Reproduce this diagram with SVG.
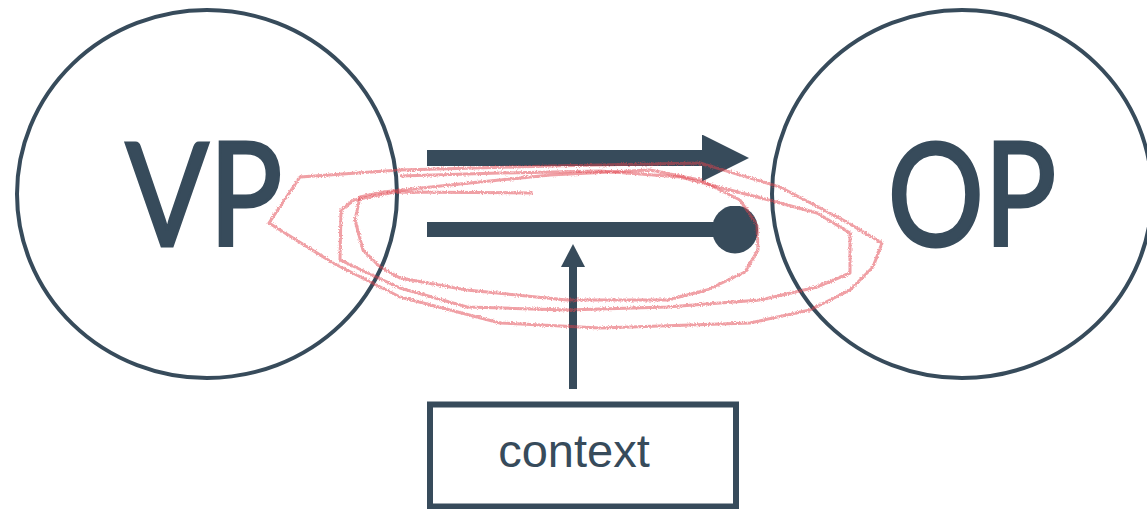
<svg xmlns="http://www.w3.org/2000/svg" width="1147" height="509" viewBox="0 0 1147 509">
  <style>
    .ring { fill: none; stroke: #374b5b; stroke-width: 4; }
    .big { font-family: Lato, "Open Sans", sans-serif; font-size: 144px; font-weight: 400; fill: #374b5b; stroke: #374b5b; stroke-width: 3; text-anchor: middle; }
    .box { fill: #ffffff; stroke: #374b5b; stroke-width: 6; }
    .label { font-family: "Liberation Sans", Arial, sans-serif; font-size: 47px; fill: #374b5b; text-anchor: middle; }
    .bar { fill: none; stroke: #374b5b; stroke-linecap: butt; }
    .scribble { fill: none; stroke: #e2404c; stroke-width: 3; stroke-opacity: 0.5; stroke-linejoin: round; filter: url(#rough); }
  </style>
  <defs>
    <marker id="head" markerUnits="userSpaceOnUse" viewBox="0 0 47 47" refX="2" refY="23.5" markerWidth="47" markerHeight="47" orient="auto">
      <path d="M0,0 L47,23.5 L0,47 Z" fill="#374b5b"/>
    </marker>
    <marker id="dot" markerUnits="userSpaceOnUse" viewBox="0 0 46 48" refX="23" refY="24" markerWidth="46" markerHeight="48" orient="auto">
      <ellipse cx="23" cy="24" rx="23" ry="24" fill="#374b5b"/>
    </marker>
    <marker id="head-small" markerUnits="userSpaceOnUse" viewBox="0 0 23 24" refX="1" refY="12" markerWidth="23" markerHeight="24" orient="auto">
      <path d="M0,0 L23,12 L0,24 Z" fill="#374b5b"/>
    </marker>
    <!-- pencil-like jitter for the hand-drawn loops -->
    <filter id="rough" x="-5%" y="-20%" width="110%" height="140%">
      <feTurbulence type="fractalNoise" baseFrequency="0.8" numOctaves="2" seed="3" result="noise"/>
      <feDisplacementMap in="SourceGraphic" in2="noise" scale="3.5" xChannelSelector="R" yChannelSelector="G"/>
    </filter>
  </defs>

  <rect width="1147" height="509" fill="#ffffff"/>

  <g id="node-vp">
    <ellipse class="ring" cx="207" cy="194" rx="190" ry="184"/>
    <text class="big" x="204" y="246" textLength="157" lengthAdjust="spacingAndGlyphs">VP</text>
  </g>

  <g id="node-op">
    <ellipse class="ring" cx="962" cy="194" rx="190" ry="184"/>
    <text class="big" x="972" y="246" textLength="169" lengthAdjust="spacingAndGlyphs">OP</text>
  </g>

  <g id="node-context">
    <rect class="box" x="430" y="404.5" width="306" height="102"/>
    <text class="label" x="574" y="467">context</text>
  </g>

  <g id="connectors">
    <path class="bar" d="M427,158 H704" stroke-width="16" marker-end="url(#head)"/>
    <path class="bar" d="M427,229.5 H735" stroke-width="15" marker-end="url(#dot)"/>
    <path class="bar" d="M573,389 V266" stroke-width="8" marker-end="url(#head-small)"/>
  </g>

  <!-- red hand-drawn loops around the two bars -->
  <g id="scribble">
    <path class="scribble" d="M269,223 L300,177 L400,170 L550,166 L700,163 L780,187 L843,220 L882,243 L873,267 L850,290 L810,310 L750,323 L600,328 L500,323 L400,297 L333,263 Z"/>
    <path class="scribble" d="M533,193 L395,192 L354,200 L341,210 L340,260 L400,288 L467,307 L567,310 L667,307 L760,300 L817,287 L850,273 L850,233 L817,213 L780,203 L680,177 L600,171 L500,173 L400,176"/>
    <path class="scribble" d="M650,170 L700,180 L740,200 L757,225 L758,250 L745,272 L707,290 L667,300 L567,300 L467,290 L400,278 L380,267 L363,250 L355,220 L360,197 L383,192 L450,185 L550,175 Z"/>
  </g>
</svg>
